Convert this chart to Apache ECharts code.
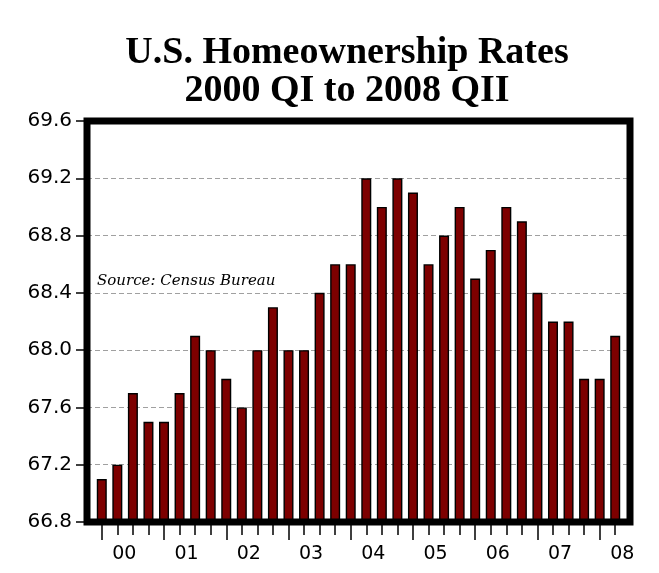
<!DOCTYPE html>
<html>

<head>
    <meta charset="utf-8" />
    <title>U.S. Homeownership Rates</title>
    <script src="https://cdn.jsdelivr.net/npm/echarts@6/dist/echarts.min.js"></script>
</head>

<body style="margin:0;background:#fff;">
    <div id="chart" style="width:659px;height:573px;"></div>
    <script type="text/javascript">
        // quarters 2000 QI .. 2008 QII
        var quarters = [
            '2000 QI', '2000 QII', '2000 QIII', '2000 QIV',
            '2001 QI', '2001 QII', '2001 QIII', '2001 QIV',
            '2002 QI', '2002 QII', '2002 QIII', '2002 QIV',
            '2003 QI', '2003 QII', '2003 QIII', '2003 QIV',
            '2004 QI', '2004 QII', '2004 QIII', '2004 QIV',
            '2005 QI', '2005 QII', '2005 QIII', '2005 QIV',
            '2006 QI', '2006 QII', '2006 QIII', '2006 QIV',
            '2007 QI', '2007 QII', '2007 QIII', '2007 QIV',
            '2008 QI', '2008 QII'
        ];
        var rates = [
            67.1, 67.2, 67.7, 67.5,
            67.5, 67.7, 68.1, 68.0,
            67.8, 67.6, 68.0, 68.3,
            68.0, 68.0, 68.4, 68.6,
            68.6, 69.2, 69.0, 69.2,
            69.1, 68.6, 68.8, 69.0,
            68.5, 68.7, 69.0, 68.9,
            68.4, 68.2, 68.2, 67.8,
            67.8, 68.1
        ];
        var yearLabels = ['00', '01', '02', '03', '04', '05', '06', '07', '08'];
        var yMin = 66.8, yMax = 69.6, yStep = 0.4;

        var chart = echarts.init(document.getElementById('chart'));

        var option = {
            animation: false,
            title: {
                text: 'U.S. Homeownership Rates\n2000 QI to 2008 QII',
                left: 342,
                top: 29,
                textAlign: 'center',
                textStyle: {
                    fontFamily: 'Liberation Serif',
                    fontWeight: 'bold',
                    fontSize: 38,
                    lineHeight: 38,
                    color: '#000'
                }
            },
            graphic: [{
                type: 'text',
                left: 97,
                top: 274,
                style: {
                    text: 'Source: Census Bureau',
                    font: 'italic 15px "DejaVu Serif"',
                    fill: '#000'
                }
            }],
            grid: [{
                // data area, inset from frame
                left: 94,
                right: 36,
                top: 121,
                height: 401
            }, {
                // frame
                show: true,
                z: 10,
                left: 87,
                right: 29,
                top: 121,
                height: 401,
                borderWidth: 7,
                borderColor: '#000',
                backgroundColor: 'transparent'
            }],
            xAxis: [{
                type: 'category',
                gridIndex: 0,
                data: quarters,
                axisLine: { show: false },
                axisTick: {
                    show: true,
                    alignWithLabel: true,
                    interval: 0,
                    length: 13,
                    lineStyle: { color: '#000', width: 1.5 }
                },
                axisLabel: {
                    interval: function (idx) { return idx % 4 === 1; },
                    formatter: function (val, idx) { return yearLabels[Math.floor(idx / 4)]; },
                    margin: 23,
                    padding: [0, 0, 0, 14],
                    fontFamily: 'DejaVu Sans',
                    fontSize: 19,
                    color: '#000'
                }
            }, {
                type: 'category',
                gridIndex: 0,
                position: 'bottom',
                data: quarters,
                axisLine: { show: false },
                axisLabel: { show: false },
                axisTick: {
                    show: true,
                    alignWithLabel: true,
                    interval: 3,
                    length: 18,
                    lineStyle: { color: '#000', width: 1.5 }
                }
            }, {
                type: 'value',
                gridIndex: 1,
                show: false,
                min: 0,
                max: 1
            }],
            yAxis: [{
                type: 'value',
                gridIndex: 0,
                min: yMin,
                max: yMax,
                interval: yStep,
                show: false
            }, {
                type: 'value',
                gridIndex: 1,
                min: yMin,
                max: yMax,
                interval: yStep,
                axisLine: { show: false },
                axisTick: {
                    show: true,
                    length: 11,
                    lineStyle: { color: '#000', width: 1.5 }
                },
                axisLabel: {
                    margin: 15,
                    formatter: function (v) { return v.toFixed(1); },
                    fontFamily: 'DejaVu Sans',
                    fontSize: 20,
                    color: '#000'
                },
                splitLine: {
                    show: true,
                    lineStyle: { color: '#a0a0a0', width: 1, type: [5, 3] }
                }
            }],
            series: [{
                type: 'bar',
                xAxisIndex: 0,
                yAxisIndex: 0,
                data: rates,
                barWidth: 10,
                itemStyle: {
                    color: '#7d0000',
                    borderColor: '#000',
                    borderWidth: 1.4
                }
            }]
        };

        chart.setOption(option);
    </script>
</body>

</html>
